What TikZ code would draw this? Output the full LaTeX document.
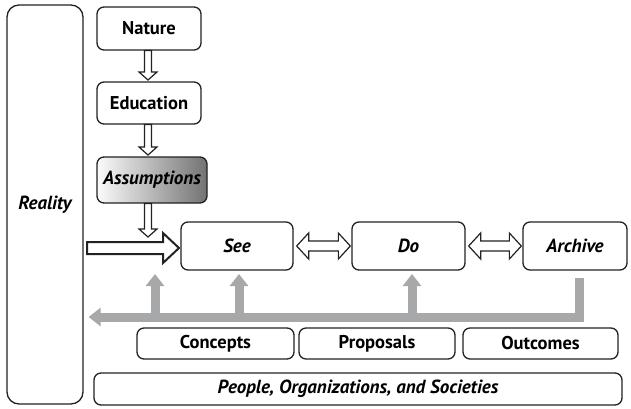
\documentclass[tikz,border=0pt]{standalone}
\usepackage{fontspec}
\setmainfont{PT Sans}
\usetikzlibrary{calc,arrows.meta}
\definecolor{gline}{HTML}{A7A8AA}
\definecolor{bline}{HTML}{222222}
\tikzset{
  box/.style={draw=bline, line width=1.3pt, rounded corners=7pt, fill=white, inner sep=0pt, font=\fontsize{18.5}{20}\selectfont\bfseries},
  ibox/.style={box, font=\fontsize{19}{20}\selectfont\bfseries\itshape},
  hollow/.style={draw=bline, line width=1.2pt, fill=white, line join=miter},
  garrow/.style={draw=gline, line width=9pt},
}
\newcommand{\downarr}[2]{%
  \draw[hollow] let \p1=#1, \p2=#2 in
    (\x1-3.5pt,\y1) -- (\x1-3.5pt,\y2+8pt) -- (\x1-9pt,\y2+8pt) -- (\x1,\y2)
    -- (\x1+9pt,\y2+8pt) -- (\x1+3.5pt,\y2+8pt) -- (\x1+3.5pt,\y1) -- cycle;}
\newcommand{\dblarr}[2]{%
  \draw[hollow] let \p1=#1, \p2=#2 in
    (\x1,\y1) -- (\x1+12pt,\y1+13pt) -- (\x1+12pt,\y1+5pt) -- (\x2-12pt,\y1+5pt)
    -- (\x2-12pt,\y1+13pt) -- (\x2,\y1) -- (\x2-12pt,\y1-13pt) -- (\x2-12pt,\y1-5pt)
    -- (\x1+12pt,\y1-5pt) -- (\x1+12pt,\y1-13pt) -- cycle;}
\begin{document}
\begin{tikzpicture}[x=1pt,y=-1pt]
\useasboundingbox (0,0) rectangle (631,408);
% main boxes
\node[ibox, rounded corners=12pt, minimum width=76pt, minimum height=399pt] (reality) at (45,204.5) {Reality};
\node[box, minimum width=104pt, minimum height=43pt] (nature) at (149,28.5) {Nature};
\node[box, minimum width=104pt, minimum height=42pt] (education) at (149,103) {Education};
\node[ibox, minimum width=110pt, minimum height=46pt, left color=gray!3, right color=black!55] (assump) at (152,180) {Assumptions};
\node[ibox, minimum width=112pt, minimum height=48pt] (see) at (237,246) {See};
\node[ibox, minimum width=113pt, minimum height=48pt] (do) at (408.5,246) {Do};
\node[ibox, minimum width=104pt, minimum height=48pt] (archive) at (575,246) {Archive};
\node[box, minimum width=157pt, minimum height=31pt] (concepts) at (215.5,343.5) {Concepts};
\node[box, minimum width=156pt, minimum height=31pt] (proposals) at (377,343.5) {Proposals};
\node[box, minimum width=155pt, minimum height=31pt] (outcomes) at (540.5,343.5) {Outcomes};
\node[ibox, minimum width=528pt, minimum height=32pt] (people) at (358,389) {People, Organizations, and Societies};
% hollow arrows
\coordinate (a1s) at (148,50.5);  \coordinate (a1e) at (148,80);
\coordinate (a2s) at (148,124.5); \coordinate (a2e) at (148,155);
\coordinate (a3s) at (148,203.5); \coordinate (a3e) at (148,237);
\downarr{(a1s)}{(a1e)}
\downarr{(a2s)}{(a2e)}
\downarr{(a3s)}{(a3e)}
\draw[hollow, line width=2pt]
  (87,242) -- (163,242) -- (163,233) -- (179,248) -- (163,263) -- (163,254) -- (87,254) -- cycle;
\coordinate (d1s) at ($(see.east)+(3,0)$);
\coordinate (d1e) at ($(do.west)+(-1,0)$);
\coordinate (d2s) at ($(do.east)+(3,0)$);
\coordinate (d2e) at ($(archive.west)+(-1,0)$);
\dblarr{(d1s)}{(d1e)}
\dblarr{(d2s)}{(d2e)}
% gray feedback arrows
\coordinate (bar) at (0,317);
\coordinate (barL) at (reality.east |- bar);
\coordinate (arcTop) at ($(archive.south)+(4,7)$);
\draw[garrow, -{Triangle[width=18pt,length=12pt]}, line join=miter]
  (arcTop) |- ($(barL)+(5,0)$);
\coordinate (up1) at (155,274);
\coordinate (up2) at (239,274);
\coordinate (up3) at (412,274);
\foreach \c in {up1,up2,up3}
  \draw[garrow, -{Triangle[width=18pt,length=12pt]}] (\c |- bar) -- (\c);
\end{tikzpicture}
\end{document}
